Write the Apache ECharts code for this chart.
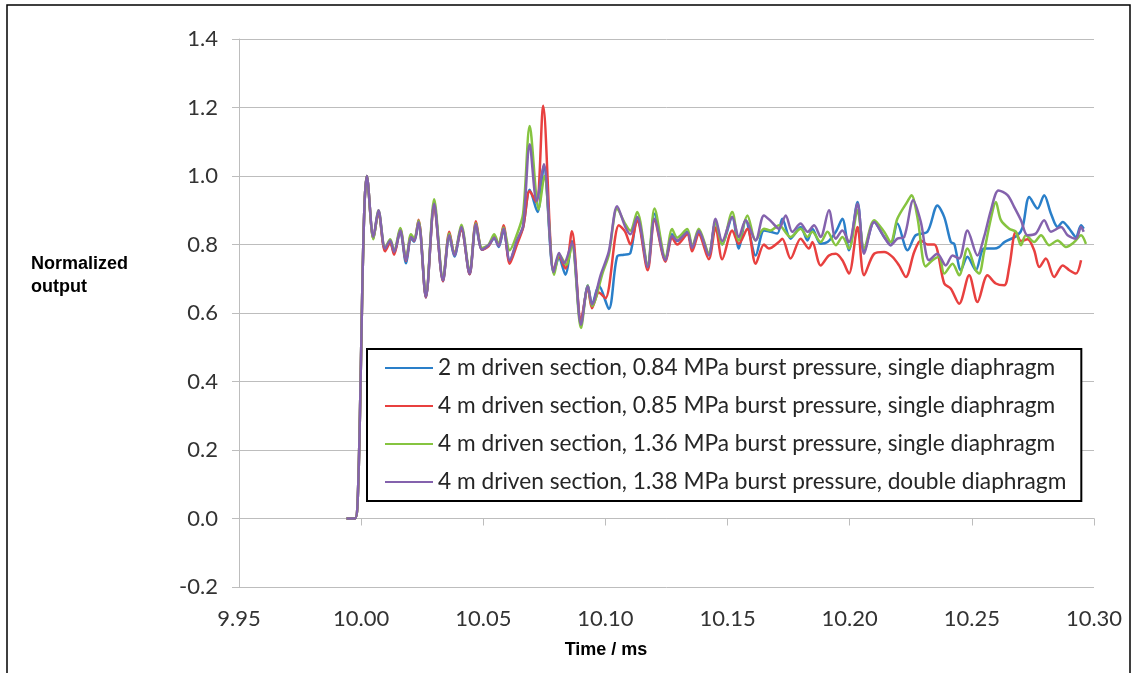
<!DOCTYPE html>
<html>
<head>
<meta charset="utf-8">
<script src="https://cdn.jsdelivr.net/npm/echarts@6/dist/echarts.min.js"></script>
<style>
html,body{margin:0;padding:0;background:#fff;}
#chart{width:1136px;height:673px;}
</style>
</head>
<body>
<div id="chart"></div>
<script>
// ---- data (time in ms, normalized output) ----
const seriesNames = [
  '2 m driven section, 0.84 MPa burst pressure, single diaphragm',
  '4 m driven section, 0.85 MPa burst pressure, single diaphragm',
  '4 m driven section, 1.36 MPa burst pressure, single diaphragm',
  '4 m driven section, 1.38 MPa burst pressure, double diaphragm'
];
const xTicks = [9.95, 10.00, 10.05, 10.10, 10.15, 10.20, 10.25, 10.30];
const yTicks = [-0.2, 0.0, 0.2, 0.4, 0.6, 0.8, 1.0, 1.2, 1.4];

const riseData = [[9.994,0],[9.9975,0],[9.9985,0.04],[9.9995,0.3],[10.0005,0.68],[10.0014,0.92],[10.0023,1.0]];

const blueData = [
[10.0050,0.818],[10.0071,0.895],[10.0098,0.785],[10.0119,0.808],[10.0135,0.775],[10.0160,0.838],[10.0184,0.745],[10.0204,0.818],[10.0217,0.808],[10.0235,0.862],[10.0265,0.645],[10.0299,0.915],[10.0335,0.693],[10.0361,0.825],[10.0382,0.765],[10.0410,0.848],[10.0444,0.713],[10.0470,0.855],[10.0495,0.785],[10.0522,0.798],[10.0545,0.818],[10.0563,0.793],[10.0583,0.842],[10.0608,0.752],[10.0638,0.81],[10.0663,0.85],
[10.0690,0.96],[10.0722,0.895],[10.0748,1.03],[10.0788,0.718],[10.0810,0.76],[10.0836,0.712],[10.0863,0.81],[10.0900,0.57],[10.0928,0.68],[10.0945,0.625],[10.0973,0.68],[10.1014,0.612],[10.1048,0.765],[10.1075,0.77],[10.1102,0.775],[10.1130,0.88],[10.1173,0.74],[10.1201,0.89],[10.1246,0.754],[10.1273,0.83],[10.1294,0.81],[10.1335,0.838],[10.1355,0.79],[10.1382,0.835],[10.1423,0.772],[10.1451,0.865],[10.1478,0.80],
[10.1519,0.880],[10.1546,0.788],[10.1574,0.871],[10.1615,0.768],[10.1649,0.841],[10.1676,0.837],[10.1704,0.832],[10.1724,0.875],[10.1758,0.817],[10.1799,0.851],[10.1827,0.812],[10.1847,0.846],[10.1881,0.802],[10.1909,0.807],[10.1943,0.837],[10.1970,0.875],[10.1997,0.783],[10.2032,0.924],[10.2059,0.778],[10.2100,0.866],[10.2141,0.822],[10.2168,0.798],[10.2195,0.861],[10.2237,0.783],[10.2270,0.827],[10.2318,0.837],[10.2359,0.914],[10.2387,0.880],[10.2414,0.807],[10.2428,0.802],[10.2455,0.725],[10.2482,0.764],[10.2516,0.725],[10.2550,0.788],[10.2591,0.788],[10.2612,0.793],[10.2633,0.807],[10.2687,0.827],[10.2708,0.851],[10.2735,0.939],[10.2769,0.905],[10.2796,0.944],[10.2824,0.890],[10.2851,0.851],[10.2872,0.866],[10.2899,0.846],[10.2926,0.822],[10.2947,0.856],[10.2958,0.846]
];

const redData = [
[10.0050,0.818],[10.0071,0.895],[10.0098,0.78],[10.0119,0.805],[10.0135,0.77],[10.0160,0.845],[10.0184,0.752],[10.0204,0.825],[10.0217,0.81],[10.0235,0.872],[10.0265,0.645],[10.0299,0.912],[10.0335,0.693],[10.0361,0.837],[10.0382,0.772],[10.0410,0.845],[10.0444,0.713],[10.0470,0.868],[10.0495,0.785],[10.0522,0.795],[10.0545,0.825],[10.0563,0.798],[10.0583,0.856],[10.0608,0.744],[10.0638,0.80],[10.0663,0.85],
[10.0690,0.956],[10.0718,0.922],[10.0745,1.205],[10.0788,0.725],[10.0810,0.765],[10.0836,0.73],[10.0863,0.839],[10.0900,0.58],[10.0928,0.672],[10.0945,0.614],[10.0973,0.66],[10.1000,0.643],[10.1055,0.856],[10.1081,0.837],[10.1102,0.80],[10.1130,0.87],[10.1173,0.725],[10.1201,0.87],[10.1246,0.75],[10.1273,0.82],[10.1294,0.80],[10.1335,0.83],[10.1355,0.78],[10.1382,0.83],[10.1423,0.757],[10.1451,0.85],[10.1478,0.757],
[10.1519,0.841],[10.1546,0.802],[10.1581,0.846],[10.1615,0.744],[10.1649,0.80],[10.1669,0.788],[10.1710,0.807],[10.1724,0.817],[10.1758,0.759],[10.1799,0.817],[10.1833,0.788],[10.1847,0.807],[10.1881,0.739],[10.1915,0.768],[10.1943,0.773],[10.1970,0.754],[10.1997,0.715],[10.2032,0.851],[10.2059,0.71],[10.2100,0.773],[10.2141,0.778],[10.2175,0.764],[10.2202,0.739],[10.2230,0.705],[10.2264,0.778],[10.2291,0.812],[10.2318,0.80],[10.2346,0.80],[10.2387,0.686],[10.2414,0.671],[10.2448,0.627],[10.2489,0.71],[10.2523,0.632],[10.2564,0.71],[10.2598,0.686],[10.2633,0.681],[10.2653,0.734],[10.2680,0.837],[10.2701,0.81],[10.2728,0.815],[10.2755,0.783],[10.2776,0.734],[10.2803,0.759],[10.2837,0.705],[10.2872,0.739],[10.2899,0.725],[10.2926,0.715],[10.2947,0.754]
];

const greenData = [
[10.0050,0.815],[10.0071,0.9],[10.0098,0.79],[10.0119,0.815],[10.0135,0.782],[10.0160,0.848],[10.0184,0.758],[10.0204,0.83],[10.0217,0.818],[10.0235,0.87],[10.0265,0.65],[10.0299,0.932],[10.0335,0.70],[10.0361,0.832],[10.0382,0.772],[10.0410,0.858],[10.0444,0.72],[10.0470,0.862],[10.0495,0.79],[10.0522,0.80],[10.0545,0.83],[10.0563,0.80],[10.0583,0.85],[10.0608,0.783],[10.0638,0.83],[10.0663,0.89],
[10.0690,1.146],[10.0727,0.902],[10.0750,1.0],[10.0790,0.712],[10.0812,0.77],[10.0840,0.74],[10.0863,0.80],[10.0900,0.556],[10.0928,0.68],[10.0945,0.62],[10.0990,0.72],[10.1014,0.77],[10.1048,0.905],[10.1081,0.86],[10.1102,0.84],[10.1130,0.895],[10.1173,0.74],[10.1201,0.905],[10.1246,0.76],[10.1273,0.845],[10.1294,0.82],[10.1335,0.845],[10.1355,0.795],[10.1382,0.846],[10.1423,0.775],[10.1451,0.865],[10.1478,0.80],
[10.1519,0.895],[10.1546,0.812],[10.1581,0.885],[10.1615,0.812],[10.1649,0.846],[10.1676,0.841],[10.1710,0.856],[10.1758,0.822],[10.1799,0.846],[10.1827,0.822],[10.1847,0.837],[10.1881,0.807],[10.1909,0.837],[10.1943,0.798],[10.1970,0.822],[10.1997,0.788],[10.2032,0.90],[10.2059,0.788],[10.2100,0.871],[10.2141,0.837],[10.2168,0.807],[10.2195,0.875],[10.2236,0.925],[10.2253,0.944],[10.2278,0.876],[10.2311,0.736],[10.2339,0.754],[10.2366,0.764],[10.2387,0.715],[10.2421,0.744],[10.2448,0.71],[10.2482,0.788],[10.2516,0.725],[10.2530,0.715],[10.2550,0.778],[10.2578,0.876],[10.2598,0.924],[10.2619,0.871],[10.2653,0.846],[10.2680,0.837],[10.2701,0.798],[10.2721,0.827],[10.2755,0.807],[10.2783,0.827],[10.2817,0.798],[10.2851,0.812],[10.2885,0.793],[10.2919,0.807],[10.2947,0.827],[10.2967,0.802]
];

const purpleData = [
[10.0050,0.822],[10.0071,0.90],[10.0098,0.788],[10.0119,0.812],[10.0135,0.778],[10.0160,0.841],[10.0184,0.754],[10.0204,0.822],[10.0217,0.812],[10.0235,0.866],[10.0265,0.647],[10.0299,0.919],[10.0335,0.695],[10.0361,0.827],[10.0382,0.768],[10.0410,0.851],[10.0444,0.715],[10.0470,0.859],[10.0495,0.785],[10.0522,0.798],[10.0545,0.820],[10.0563,0.795],[10.0583,0.846],[10.0608,0.754],[10.0638,0.812],[10.0663,0.856],
[10.0690,1.093],[10.0718,0.927],[10.0748,1.034],[10.0788,0.720],[10.0810,0.775],[10.0830,0.745],[10.0863,0.805],[10.0900,0.566],[10.0928,0.678],[10.0945,0.625],[10.0980,0.710],[10.1014,0.780],[10.1048,0.912],[10.1081,0.852],[10.1102,0.830],[10.1130,0.880],[10.1173,0.734],[10.1201,0.875],[10.1246,0.754],[10.1273,0.825],[10.1294,0.812],[10.1335,0.835],[10.1355,0.790],[10.1382,0.840],[10.1423,0.768],[10.1451,0.875],[10.1478,0.810],
[10.1519,0.880],[10.1546,0.822],[10.1574,0.871],[10.1615,0.812],[10.1649,0.885],[10.1680,0.866],[10.1710,0.846],[10.1738,0.885],[10.1765,0.837],[10.1799,0.861],[10.1827,0.837],[10.1854,0.856],[10.1881,0.822],[10.1915,0.900],[10.1943,0.817],[10.1970,0.841],[10.1997,0.807],[10.2032,0.919],[10.2059,0.773],[10.2100,0.866],[10.2141,0.822],[10.2168,0.798],[10.2195,0.817],[10.2223,0.822],[10.2260,0.929],[10.2291,0.866],[10.2325,0.754],[10.2359,0.773],[10.2393,0.739],[10.2421,0.768],[10.2448,0.759],[10.2482,0.841],[10.2523,0.768],[10.2550,0.822],[10.2578,0.900],[10.2609,0.958],[10.2646,0.944],[10.2673,0.910],[10.2701,0.871],[10.2728,0.827],[10.2762,0.832],[10.2796,0.871],[10.2824,0.837],[10.2865,0.851],[10.2892,0.827],[10.2926,0.817],[10.2947,0.851],[10.2958,0.837]
];

const seriesColors = ['#2a7fc9', '#e8403f', '#86c440', '#8462ad'];
const seriesData = [blueData, redData, greenData, purpleData];

// ---- chart ----
const chart = echarts.init(document.getElementById('chart'), null, {renderer: 'canvas'});
const labelFont = 'Lato';
const gridColor = '#bdbdbd';

const option = {
  animation: false,
  backgroundColor: '#fff',
  grid: {left: 239, right: 42, top: 39, bottom: 86, containLabel: false},
  xAxis: [
    {
      type: 'value', min: 9.95, max: 10.30, interval: 0.05, position: 'bottom',
      axisLine: {show: false, onZero: false}, axisTick: {show: false}, splitLine: {show: false},
      axisLabel: {
        margin: 21, fontSize: 22, fontFamily: labelFont, color: '#333',
        formatter: v => { const t = xTicks.find(x => Math.abs(x - v) < 1e-6); return t === undefined ? '' : t.toFixed(2); }
      }
    },
    {
      type: 'value', min: 9.95, max: 10.30, interval: 0.05, position: 'top',
      axisLine: {show: true, onZero: true, lineStyle: {color: gridColor, width: 1}},
      axisTick: {show: true, inside: true, length: 7, lineStyle: {color: gridColor, width: 1}},
      axisLabel: {show: false}, splitLine: {show: false}
    }
  ],
  yAxis: {
    type: 'value', min: -0.2, max: 1.4, interval: 0.2,
    axisLine: {show: true, lineStyle: {color: gridColor, width: 1}},
    axisTick: {show: true, length: 7, lineStyle: {color: gridColor, width: 1}},
    splitLine: {show: true, lineStyle: {color: gridColor, width: 1}},
    axisLabel: {
      margin: 21, fontSize: 22, fontFamily: labelFont, color: '#333',
      formatter: v => { const t = yTicks.find(y => Math.abs(y - v) < 1e-6); return t === undefined ? '' : t.toFixed(1); }
    }
  },
  legend: {
    orient: 'vertical', left: 367, top: 349,
    padding: [7, 15, 7, 18],
    itemGap: 14, itemWidth: 48, itemHeight: 2, icon: 'rect',
    backgroundColor: '#fff', borderColor: '#000', borderWidth: 2, borderRadius: 0,
    textStyle: {fontSize: 22.7, fontFamily: labelFont, color: '#262626', lineHeight: 24},
    data: seriesNames
  },
  graphic: [
    {type: 'rect', silent: true, z: -1, shape: {x: 7, y: 5, width: 1123, height: 700},
     style: {fill: 'none', stroke: '#000', lineWidth: 1.5}},
    {type: 'text', silent: true, x: 31, y: 275.5,
     style: {text: 'Normalized\noutput', font: 'bold 18px "Liberation Sans", Arial, sans-serif', fill: '#000',
             lineHeight: 23, verticalAlign: 'middle', align: 'left'}},
    {type: 'text', silent: true, x: 606, y: 650.5,
     style: {text: 'Time / ms', font: 'bold 18px "Liberation Sans", Arial, sans-serif', fill: '#000',
             verticalAlign: 'middle', align: 'center'}}
  ],
  series: seriesNames.map((name, i) => ({
    name: name, type: 'line', xAxisIndex: 0, yAxisIndex: 0,
    data: riseData.concat(seriesData[i]),
    smooth: 0.3, symbol: 'none', showSymbol: false,
    lineStyle: {color: seriesColors[i], width: 2.5},
    itemStyle: {color: seriesColors[i]},
    emphasis: {disabled: true}
  }))
};
chart.setOption(option);
</script>
</body>
</html>
